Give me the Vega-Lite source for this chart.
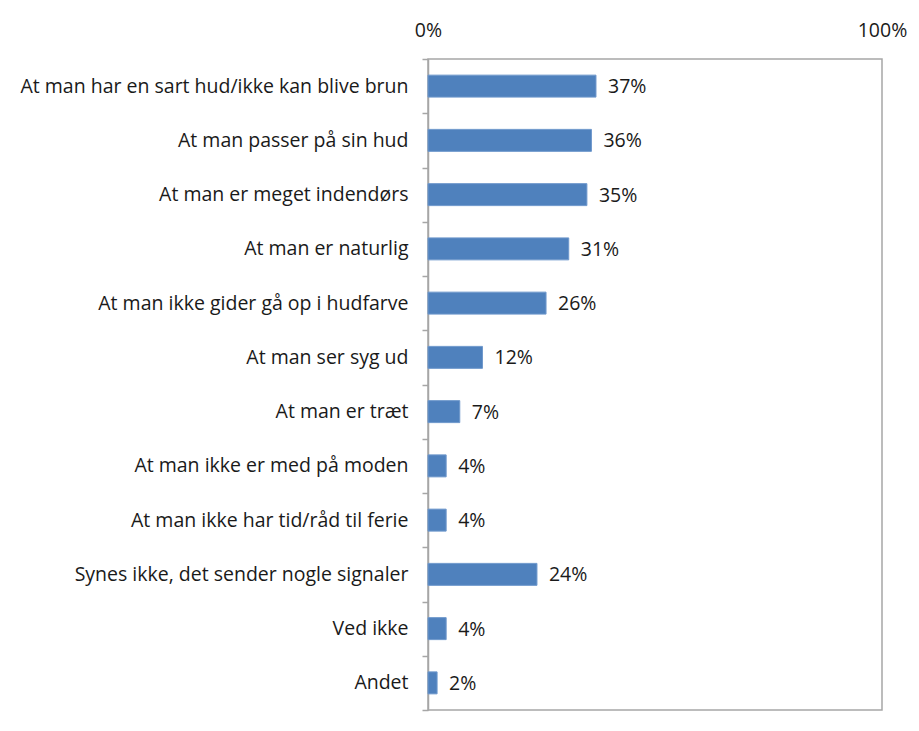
{
  "$schema": "https://vega.github.io/schema/vega-lite/v6.json",
  "width": 454,
  "height": 651,
  "autosize": {"type": "none"},
  "padding": {"left": 428, "top": 59, "right": 37, "bottom": 21},
  "background": "white",
  "config": {
    "view": {"stroke": "#a6a6a6", "strokeWidth": 1.5},
    "font": "Open Sans"
  },
  "data": {
    "values": [
      {"category": "At man har en sart hud/ikke kan blive brun", "value": 0.37},
      {"category": "At man passer på sin hud", "value": 0.36},
      {"category": "At man er meget indendørs", "value": 0.35},
      {"category": "At man er naturlig", "value": 0.31},
      {"category": "At man ikke gider gå op i hudfarve", "value": 0.26},
      {"category": "At man ser syg ud", "value": 0.12},
      {"category": "At man er træt", "value": 0.07},
      {"category": "At man ikke er med på moden", "value": 0.04},
      {"category": "At man ikke har tid/råd til ferie", "value": 0.04},
      {"category": "Synes ikke, det sender nogle signaler", "value": 0.24},
      {"category": "Ved ikke", "value": 0.04},
      {"category": "Andet", "value": 0.02}
    ]
  },
  "encoding": {
    "y": {
      "field": "category",
      "type": "nominal",
      "sort": null,
      "scale": {"paddingInner": 0, "paddingOuter": 0},
      "axis": {
        "title": null,
        "domainColor": "#a6a6a6",
        "domainWidth": 1.5,
        "tickColor": "#a6a6a6",
        "tickWidth": 1.5,
        "tickSize": 6,
        "tickBand": "extent",
        "labelPadding": 14,
        "labelFontSize": 19.5,
        "labelColor": "#1a1a1a",
        "labelLimit": 420
      }
    },
    "x": {
      "field": "value",
      "type": "quantitative",
      "scale": {"domain": [0, 1]},
      "axis": {
        "orient": "top",
        "title": null,
        "values": [0, 1],
        "format": ".0%",
        "ticks": false,
        "domain": false,
        "grid": false,
        "labelPadding": 19,
        "labelFontSize": 19.5,
        "labelColor": "#1a1a1a",
        "labelFlush": false
      }
    }
  },
  "layer": [
    {
      "mark": {"type": "bar", "color": "#4f81bd", "stroke": "#6f98cc", "strokeWidth": 1, "height": {"band": 0.405}}
    },
    {
      "mark": {"type": "text", "align": "left", "dx": 12, "dy": 1, "fontSize": 19.5, "color": "#1a1a1a"},
      "encoding": {
        "text": {"field": "value", "type": "quantitative", "format": ".0%"}
      }
    }
  ]
}
